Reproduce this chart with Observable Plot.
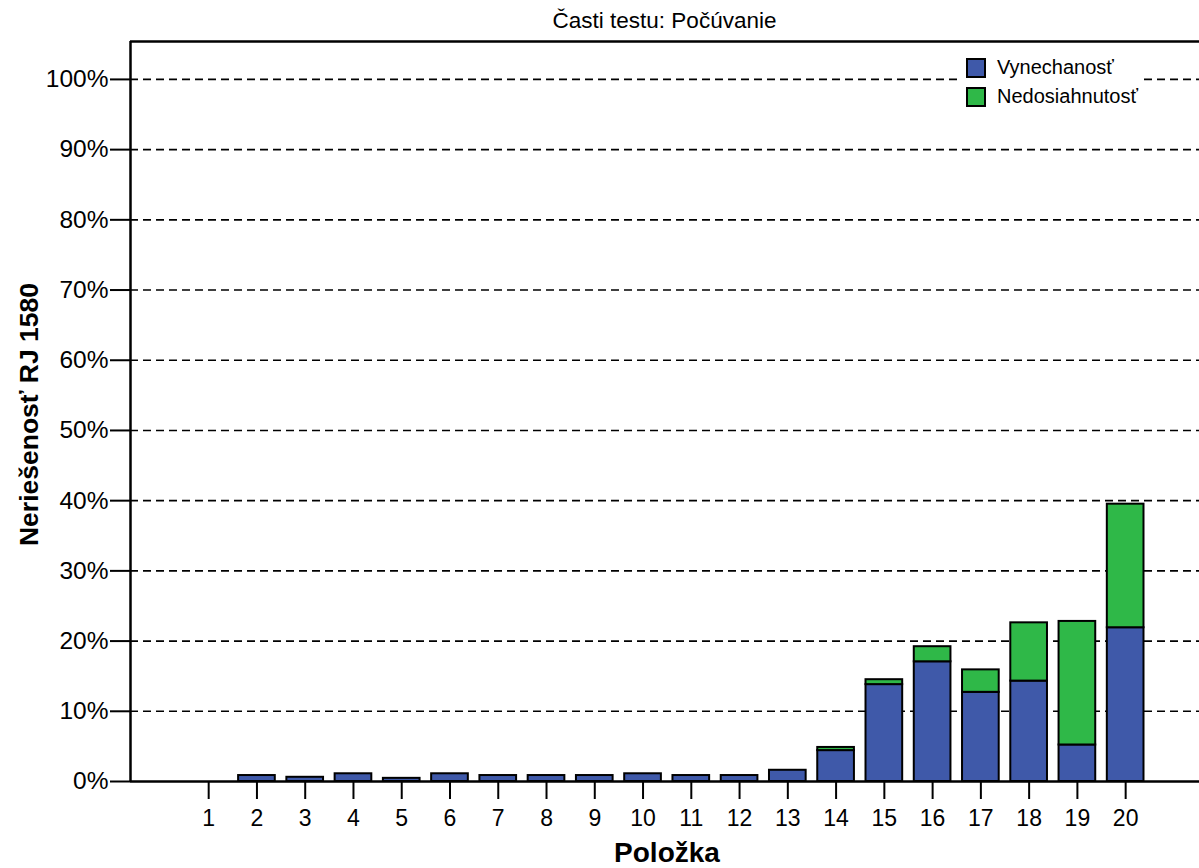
<!DOCTYPE html>
<html>
<head>
<meta charset="utf-8">
<script src="https://cdn.jsdelivr.net/npm/d3@7"></script>
<script src="https://cdn.jsdelivr.net/npm/@observablehq/plot@0.6"></script>
<style>
  body { margin: 0; background: #fff; font-family: "Liberation Sans", Arial, Helvetica, sans-serif; }
  #wrap { position: relative; width: 1199px; height: 868px; }
  #title { position: absolute; left: 130px; width: 1069px; top: 8px; text-align: center; font-size: 22.5px; color: #000; }
  #legend { position: absolute; left: 962px; top: 51px; background: #fff; padding: 2px 6px 4px 4px; font-size: 20px; color: #000; }
  .sw { display: flex; align-items: center; height: 29px; }
  .box { width: 16px; height: 16px; border: 2px solid #000; margin-right: 11px; box-sizing: content-box; }
</style>
</head>
<body>
<div id="wrap">
  <div id="chart"></div>
  <div id="title"></div>
  <div id="legend"></div>
</div>
<script>
const titleText = "Časti testu: Počúvanie";
const xLabel = "Položka";
const yLabel = "Neriešenosť RJ 1580";
const items = [1,2,3,4,5,6,7,8,9,10,11,12,13,14,15,16,17,18,19,20];
const vynechanost   = [0, 0.85, 0.6, 1.1, 0.45, 1.1, 0.85, 0.85, 0.85, 1.1, 0.85, 0.85, 1.6, 4.4, 13.8, 17.05, 12.7, 14.3, 5.2, 21.9];
const nedosiahnutost = [0, 0, 0, 0, 0, 0, 0, 0, 0, 0, 0, 0, 0, 0.45, 0.7, 2.15, 3.2, 8.3, 17.6, 17.6];
const seriesNames = ["Vynechanosť", "Nedosiahnutosť"];
const seriesColors = ["#3F59A9", "#2FB848"];
const yTicks = [0,10,20,30,40,50,60,70,80,90,100];

const rows = [];
items.forEach((it, i) => {
  rows.push({item: it, series: seriesNames[0], y1: 0, y2: vynechanost[i]});
  if (nedosiahnutost[i] > 0) rows.push({item: it, series: seriesNames[1], y1: vynechanost[i], y2: vynechanost[i] + nedosiahnutost[i]});
});

const half = 0.38;
const xDomain = [-0.62, 21.53];
const yDomain = [0, 105.4];

const chart = Plot.plot({
  width: 1199,
  height: 868,
  marginLeft: 130,
  marginRight: 0,
  marginTop: 41,
  marginBottom: 87,
  style: {fontFamily: "'Liberation Sans', Arial, Helvetica, sans-serif", color: "#000", background: "#fff", overflow: "visible"},
  x: {type: "linear", domain: xDomain},
  y: {domain: yDomain},
  color: {domain: seriesNames, range: seriesColors},
  marks: [
    Plot.ruleY(yTicks.filter(d => d > 0), {stroke: "#000", strokeWidth: 1.6, strokeDasharray: "8,5"}),
    Plot.rectY(rows, {x1: d => d.item - half, x2: d => d.item + half, y1: "y1", y2: "y2", fill: "series", stroke: "#000", strokeWidth: 2}),
    Plot.ruleY([0], {stroke: "#000", strokeWidth: 2.5}),
    Plot.ruleY([yDomain[1]], {stroke: "#000", strokeWidth: 2.5}),
    Plot.ruleX([xDomain[0]], {stroke: "#000", strokeWidth: 2.5}),
    Plot.axisY({ticks: yTicks, tickFormat: d => d + "%", tickSize: 20, tickPadding: 2, fontSize: 24.5, strokeWidth: 2, label: null}),
    Plot.axisX({ticks: items, tickFormat: d => String(d), tickSize: 18, tickPadding: 10, fontSize: 23, strokeWidth: 2, label: null}),
    Plot.text([xLabel], {frameAnchor: "bottom", textAnchor: "middle", lineAnchor: "middle", dy: 72, dx: 2, fontSize: 28, fontWeight: "bold"}),
    Plot.text([yLabel], {frameAnchor: "left", textAnchor: "middle", lineAnchor: "middle", dx: -101, dy: 3, rotate: -90, fontSize: 26.5, fontWeight: "bold"})
  ]
});
document.getElementById("chart").appendChild(chart);
document.getElementById("title").textContent = titleText;
const lg = document.getElementById("legend");
seriesNames.forEach((n, i) => {
  const row = document.createElement("div");
  row.className = "sw";
  const b = document.createElement("div");
  b.className = "box";
  b.style.background = seriesColors[i];
  const t = document.createElement("span");
  t.textContent = n;
  row.appendChild(b); row.appendChild(t);
  lg.appendChild(row);
});
</script>
</body>
</html>
